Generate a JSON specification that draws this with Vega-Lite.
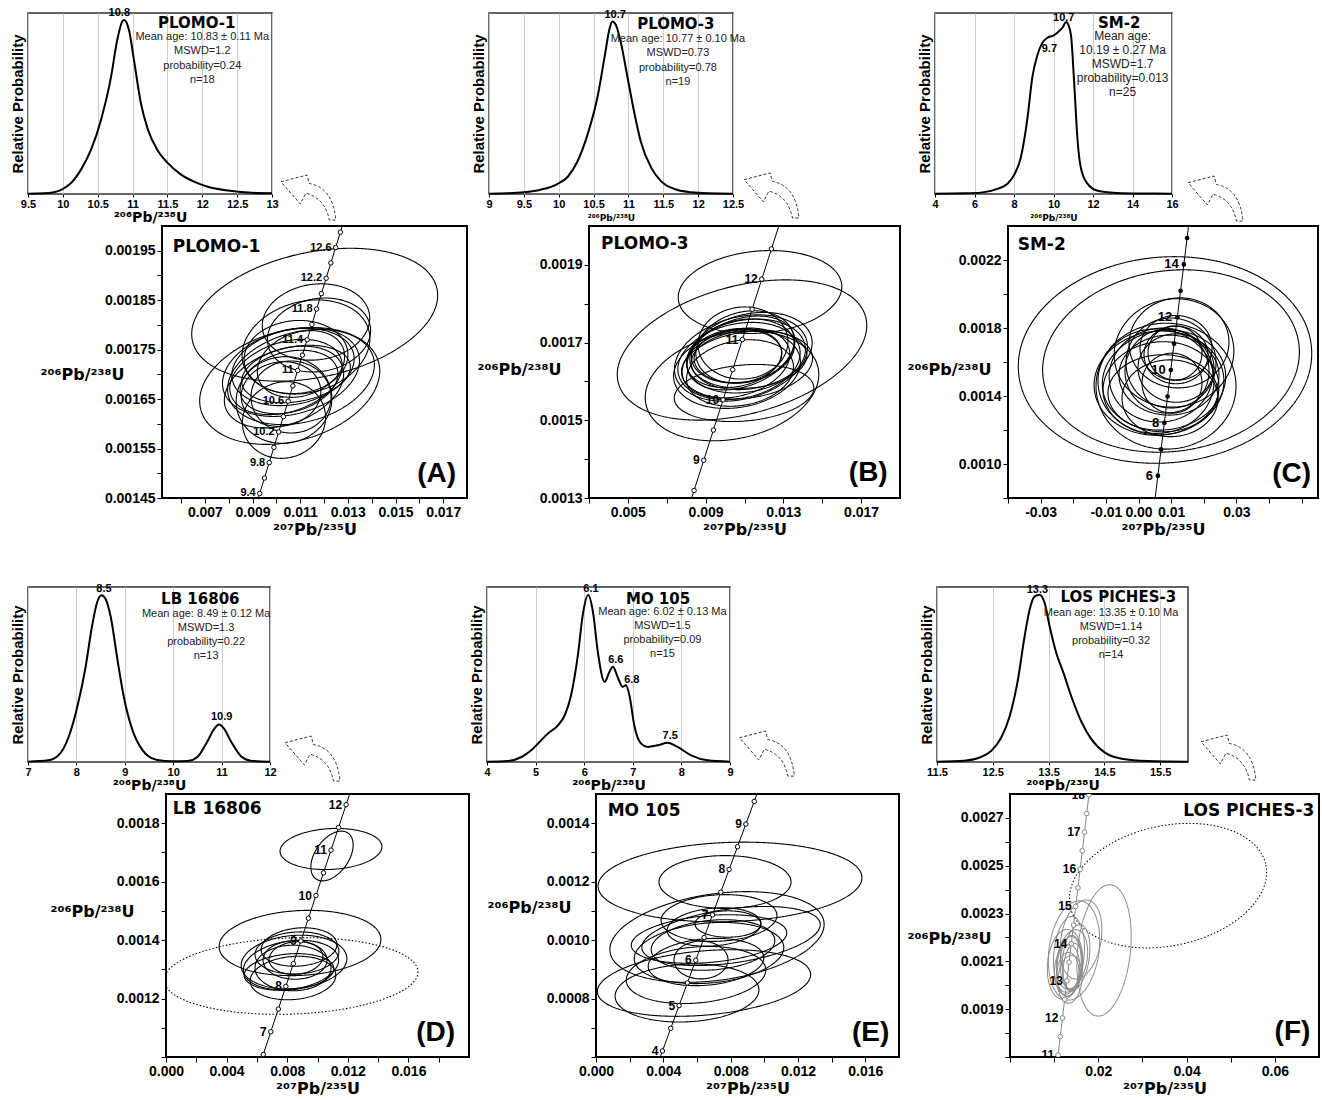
{
"$schema": "https://vega.github.io/schema/vega-lite/v6.json",
"padding": {"left": 9, "top": 6, "right": 2, "bottom": 2},
"background": "white",
"config": {
  "view": {"stroke": null},
  "font": "Liberation Sans",
  "axis": {"labelFont": "Liberation Sans", "labelFontWeight": "bold", "labelColor": "black", "titleFont": "DejaVu Sans", "titleFontWeight": "bold", "titleColor": "black", "tickColor": "black", "domain": false, "grid": false, "labelOverlap": false, "labelFlush": false, "labelBound": false}
},
"datasets": {
  "pdfA": [{"x":9.5,"p":0.002},{"x":9.73,"p":0.004},{"x":9.87,"p":0.01},{"x":9.99,"p":0.027},{"x":10.11,"p":0.06},{"x":10.26,"p":0.14},{"x":10.4,"p":0.25},{"x":10.55,"p":0.43},{"x":10.69,"p":0.67},{"x":10.78,"p":0.885},{"x":10.86,"p":0.996},{"x":10.88,"p":1.0},{"x":10.95,"p":0.94},{"x":11.02,"p":0.77},{"x":11.12,"p":0.52},{"x":11.22,"p":0.37},{"x":11.36,"p":0.25},{"x":11.5,"p":0.18},{"x":11.7,"p":0.11},{"x":11.89,"p":0.07},{"x":12.08,"p":0.042},{"x":12.37,"p":0.02},{"x":12.66,"p":0.008},{"x":13.0,"p":0.004}],
  "pdfB": [{"x":9.0,"p":0.002},{"x":9.26,"p":0.004},{"x":9.5,"p":0.01},{"x":9.74,"p":0.025},{"x":9.98,"p":0.058},{"x":10.13,"p":0.1},{"x":10.27,"p":0.19},{"x":10.41,"p":0.34},{"x":10.56,"p":0.57},{"x":10.66,"p":0.8},{"x":10.73,"p":0.96},{"x":10.77,"p":1.0},{"x":10.82,"p":0.98},{"x":10.89,"p":0.88},{"x":10.99,"p":0.67},{"x":11.09,"p":0.46},{"x":11.18,"p":0.3},{"x":11.33,"p":0.15},{"x":11.47,"p":0.073},{"x":11.66,"p":0.029},{"x":11.9,"p":0.01},{"x":12.14,"p":0.004},{"x":12.5,"p":0.002}],
  "pdfC": [{"x":4,"p":0.002},{"x":5.47,"p":0.004},{"x":6.32,"p":0.008},{"x":7.16,"p":0.03},{"x":7.67,"p":0.06},{"x":8.0,"p":0.11},{"x":8.34,"p":0.21},{"x":8.68,"p":0.44},{"x":8.93,"p":0.68},{"x":9.19,"p":0.81},{"x":9.44,"p":0.88},{"x":9.7,"p":0.91},{"x":9.96,"p":0.92},{"x":10.21,"p":0.94},{"x":10.47,"p":0.97},{"x":10.64,"p":1.0},{"x":10.75,"p":0.985},{"x":10.89,"p":0.92},{"x":11.05,"p":0.64},{"x":11.22,"p":0.31},{"x":11.39,"p":0.15},{"x":11.72,"p":0.06},{"x":12.2,"p":0.02},{"x":13.0,"p":0.007},{"x":14,"p":0.003},{"x":16,"p":0.002}],
  "pdfD": [{"x":7.0,"p":0.002},{"x":7.42,"p":0.01},{"x":7.63,"p":0.04},{"x":7.84,"p":0.15},{"x":8.05,"p":0.37},{"x":8.19,"p":0.57},{"x":8.32,"p":0.81},{"x":8.43,"p":0.96},{"x":8.52,"p":1.0},{"x":8.6,"p":0.98},{"x":8.71,"p":0.87},{"x":8.85,"p":0.61},{"x":8.98,"p":0.39},{"x":9.16,"p":0.19},{"x":9.37,"p":0.07},{"x":9.65,"p":0.014},{"x":9.99,"p":0.004},{"x":10.3,"p":0.006},{"x":10.5,"p":0.03},{"x":10.7,"p":0.12},{"x":10.85,"p":0.2},{"x":10.95,"p":0.225},{"x":11.05,"p":0.2},{"x":11.2,"p":0.12},{"x":11.4,"p":0.035},{"x":11.6,"p":0.008},{"x":12,"p":0.002}],
  "pdfE": [{"x":4.0,"p":0.002},{"x":4.43,"p":0.006},{"x":4.71,"p":0.03},{"x":4.91,"p":0.07},{"x":5.08,"p":0.12},{"x":5.25,"p":0.17},{"x":5.46,"p":0.22},{"x":5.6,"p":0.28},{"x":5.73,"p":0.4},{"x":5.87,"p":0.64},{"x":5.97,"p":0.88},{"x":6.08,"p":1.0},{"x":6.18,"p":0.9},{"x":6.28,"p":0.66},{"x":6.42,"p":0.48},{"x":6.52,"p":0.54},{"x":6.59,"p":0.57},{"x":6.7,"p":0.5},{"x":6.79,"p":0.45},{"x":6.86,"p":0.46},{"x":6.93,"p":0.4},{"x":7.03,"p":0.22},{"x":7.17,"p":0.11},{"x":7.31,"p":0.09},{"x":7.51,"p":0.1},{"x":7.72,"p":0.115},{"x":7.92,"p":0.09},{"x":8.2,"p":0.04},{"x":8.54,"p":0.01},{"x":9.0,"p":0.002}],
  "pdfF": [{"x":11.5,"p":0.002},{"x":11.99,"p":0.008},{"x":12.29,"p":0.03},{"x":12.47,"p":0.066},{"x":12.65,"p":0.145},{"x":12.8,"p":0.27},{"x":12.95,"p":0.49},{"x":13.07,"p":0.75},{"x":13.16,"p":0.91},{"x":13.25,"p":0.99},{"x":13.34,"p":1.0},{"x":13.43,"p":0.95},{"x":13.52,"p":0.81},{"x":13.64,"p":0.65},{"x":13.76,"p":0.54},{"x":13.91,"p":0.39},{"x":14.09,"p":0.24},{"x":14.27,"p":0.135},{"x":14.51,"p":0.056},{"x":14.81,"p":0.02},{"x":15.28,"p":0.006},{"x":16,"p":0.002}],
  "peaksA": [{"x":10.81,"p":1.01,"label":"10.8"}],
  "peaksB": [{"x":10.81,"p":1.01,"label":"10.7"}],
  "peaksC": [{"x":10.52,"p":0.996,"label":"10.7"},{"x":9.79,"p":0.816,"label":"9.7"}],
  "peaksD": [{"x":8.57,"p":1.006,"label":"8.5"},{"x":11.0,"p":0.238,"label":"10.9"}],
  "peaksE": [{"x":6.14,"p":1.006,"label":"6.1"},{"x":6.65,"p":0.581,"label":"6.6"},{"x":6.98,"p":0.46,"label":"6.8"},{"x":7.77,"p":0.128,"label":"7.5"}],
  "peaksF": [{"x":13.3,"p":0.999,"label":"13.3"}],
  "infoA": [{"name":"PLOMO-1","stats":"Mean age: 10.83 ± 0.11 Ma\nMSWD=1.2\nprobability=0.24\nn=18","panel":"(A)"}],
  "infoB": [{"name":"PLOMO-3","stats":"Mean age: 10.77 ± 0.10 Ma\nMSWD=0.73\nprobability=0.78\nn=19","panel":"(B)"}],
  "infoC": [{"name":"SM-2","stats":"Mean age:\n10.19 ± 0.27 Ma\nMSWD=1.7\nprobability=0.013\nn=25","panel":"(C)"}],
  "infoD": [{"name":"LB 16806","stats":"Mean age: 8.49 ± 0.12 Ma\nMSWD=1.3\nprobability=0.22\nn=13","panel":"(D)"}],
  "infoE": [{"name":"MO 105","stats":"Mean age: 6.02 ± 0.13 Ma\nMSWD=1.5\nprobability=0.09\nn=15","panel":"(E)"}],
  "infoF": [{"name":"LOS PICHES-3","stats":"Mean age: 13.35 ± 0.10 Ma\nMSWD=1.14\nprobability=0.32\nn=14","panel":"(F)"}],
  "concA": [{"t":9.2,"x":0.0091018,"y":0.00142817},{"t":9.4,"x":0.0093006,"y":0.00145924,"lab":"9.4"},{"t":9.6,"x":0.0094994,"y":0.00149031},{"t":9.8,"x":0.0096983,"y":0.00152138,"lab":"9.8"},{"t":10.0,"x":0.0098972,"y":0.00155245},{"t":10.2,"x":0.0100961,"y":0.00158353,"lab":"10.2"},{"t":10.4,"x":0.0102951,"y":0.0016146},{"t":10.6,"x":0.0104941,"y":0.00164568,"lab":"10.6"},{"t":10.8,"x":0.0106932,"y":0.00167675},{"t":11.0,"x":0.0108922,"y":0.00170783,"lab":"11"},{"t":11.2,"x":0.0110914,"y":0.00173891},{"t":11.4,"x":0.0112906,"y":0.00176999,"lab":"11.4"},{"t":11.6,"x":0.0114898,"y":0.00180107},{"t":11.8,"x":0.011689,"y":0.00183215,"lab":"11.8"},{"t":12.0,"x":0.0118883,"y":0.00186323},{"t":12.2,"x":0.0120876,"y":0.00189432,"lab":"12.2"},{"t":12.4,"x":0.012287,"y":0.0019254},{"t":12.6,"x":0.0124864,"y":0.00195649,"lab":"12.6"},{"t":12.8,"x":0.0126859,"y":0.00198757},{"t":13.0,"x":0.0128854,"y":0.00201866}],
  "concB": [{"t":8.0,"x":0.0079099,"y":0.00124177},{"t":8.5,"x":0.0084064,"y":0.00131943},{"t":9.0,"x":0.008903,"y":0.0013971,"lab":"9"},{"t":9.5,"x":0.0094,"y":0.00147477},{"t":10.0,"x":0.0098972,"y":0.00155245,"lab":"10"},{"t":10.5,"x":0.0103946,"y":0.00163014},{"t":11.0,"x":0.0108922,"y":0.00170783,"lab":"11"},{"t":11.5,"x":0.0113902,"y":0.00178553},{"t":12.0,"x":0.0118883,"y":0.00186323,"lab":"12"},{"t":12.5,"x":0.0123867,"y":0.00194094},{"t":13.0,"x":0.0128854,"y":0.00201866}],
  "concC": [{"t":5,"x":0.0049364,"y":0.00077593},{"t":6,"x":0.0059266,"y":0.00093118,"lab":"6"},{"t":7,"x":0.0069178,"y":0.00108646},{"t":8,"x":0.0079099,"y":0.00124177,"lab":"8"},{"t":9,"x":0.008903,"y":0.0013971},{"t":10,"x":0.0098972,"y":0.00155245,"lab":"10"},{"t":11,"x":0.0108922,"y":0.00170783},{"t":12,"x":0.0118883,"y":0.00186323,"lab":"12"},{"t":13,"x":0.0128854,"y":0.00201866},{"t":14,"x":0.0138834,"y":0.00217411,"lab":"14"},{"t":15,"x":0.0148824,"y":0.00232958},{"t":16,"x":0.0158826,"y":0.00248508}],
  "concD": [{"t":6.0,"x":0.0059266,"y":0.00093118},{"t":6.5,"x":0.0064221,"y":0.00100882},{"t":7.0,"x":0.0069178,"y":0.00108646,"lab":"7"},{"t":7.5,"x":0.0074137,"y":0.00116411},{"t":8.0,"x":0.0079099,"y":0.00124177,"lab":"8"},{"t":8.5,"x":0.0084064,"y":0.00131943},{"t":9.0,"x":0.008903,"y":0.0013971,"lab":"9"},{"t":9.5,"x":0.0094,"y":0.00147477},{"t":10.0,"x":0.0098972,"y":0.00155245,"lab":"10"},{"t":10.5,"x":0.0103946,"y":0.00163014},{"t":11.0,"x":0.0108922,"y":0.00170783,"lab":"11"},{"t":11.5,"x":0.0113902,"y":0.00178553},{"t":12.0,"x":0.0118883,"y":0.00186323,"lab":"12"},{"t":12.5,"x":0.0123867,"y":0.00194094}],
  "concE": [{"t":3.5,"x":0.0034529,"y":0.00054309},{"t":4.0,"x":0.0039472,"y":0.00062069,"lab":"4"},{"t":4.5,"x":0.0044417,"y":0.00069831},{"t":5.0,"x":0.0049364,"y":0.00077593,"lab":"5"},{"t":5.5,"x":0.0054314,"y":0.00085355},{"t":6.0,"x":0.0059266,"y":0.00093118,"lab":"6"},{"t":6.5,"x":0.0064221,"y":0.00100882},{"t":7.0,"x":0.0069178,"y":0.00108646,"lab":"7"},{"t":7.5,"x":0.0074137,"y":0.00116411},{"t":8.0,"x":0.0079099,"y":0.00124177,"lab":"8"},{"t":8.5,"x":0.0084064,"y":0.00131943},{"t":9.0,"x":0.008903,"y":0.0013971,"lab":"9"},{"t":9.5,"x":0.0094,"y":0.00147477},{"t":10.0,"x":0.0098972,"y":0.00155245}],
  "concF": [{"t":10.5,"x":0.0103946,"y":0.00163014},{"t":11,"x":0.0108922,"y":0.00170783,"lab":"11"},{"t":11.5,"x":0.0113902,"y":0.00178553},{"t":12,"x":0.0118883,"y":0.00186323,"lab":"12"},{"t":12.5,"x":0.0123867,"y":0.00194094},{"t":13,"x":0.0128854,"y":0.00201866,"lab":"13"},{"t":13.5,"x":0.0133843,"y":0.00209638},{"t":14,"x":0.0138834,"y":0.00217411,"lab":"14"},{"t":14.5,"x":0.0143828,"y":0.00225184},{"t":15,"x":0.0148824,"y":0.00232958,"lab":"15"},{"t":15.5,"x":0.0153823,"y":0.00240733},{"t":16,"x":0.0158826,"y":0.00248508,"lab":"16"},{"t":16.5,"x":0.0163828,"y":0.00256284},{"t":17,"x":0.0168834,"y":0.0026406,"lab":"17"},{"t":17.5,"x":0.0173842,"y":0.00271837},{"t":18,"x":0.0178854,"y":0.00279615,"lab":"18"},{"t":18.5,"x":0.0183867,"y":0.00287393}],
  "ellA": [{"x":0.011608,"y":0.0018206,"a":0.005246,"asp":0.5,"ang":-12},{"x":0.010559,"y":0.0016765,"a":0.003861,"asp":0.6,"ang":-15},{"x":0.011663,"y":0.0018059,"a":0.002266,"asp":0.7,"ang":-8},{"x":0.011789,"y":0.0017796,"a":0.002182,"asp":0.7,"ang":-10},{"x":0.01032,"y":0.0016077,"a":0.001763,"asp":0.9,"ang":-20},{"x":0.01032,"y":0.0016482,"a":0.002014,"asp":0.9,"ang":-10},{"x":0.010614,"y":0.0017048,"a":0.002938,"asp":0.6,"ang":-15},{"x":0.010698,"y":0.0017149,"a":0.002602,"asp":0.6,"ang":-12},{"x":0.010404,"y":0.0016947,"a":0.002434,"asp":0.6,"ang":-18},{"x":0.010824,"y":0.0017007,"a":0.002308,"asp":0.5,"ang":-10},{"x":0.01053,"y":0.0016846,"a":0.002098,"asp":0.6,"ang":-15},{"x":0.011033,"y":0.001721,"a":0.001889,"asp":0.7,"ang":-20},{"x":0.01032,"y":0.0016744,"a":0.002602,"asp":0.6,"ang":-20},{"x":0.010824,"y":0.0017351,"a":0.002182,"asp":0.7,"ang":-5},{"x":0.010194,"y":0.0016603,"a":0.001679,"asp":0.8,"ang":-10},{"x":0.011243,"y":0.0017553,"a":0.002728,"asp":0.7,"ang":-15},{"x":0.010614,"y":0.0016542,"a":0.001679,"asp":0.9,"ang":0},{"x":0.011033,"y":0.0016947,"a":0.003148,"asp":0.6,"ang":-15}],
  "ellB": [{"x":0.010872,"y":0.0016809,"a":0.006585,"asp":0.5,"ang":-15},{"x":0.010357,"y":0.0015882,"a":0.004527,"asp":0.6,"ang":-12},{"x":0.011798,"y":0.0018301,"a":0.004219,"asp":0.5,"ang":-5},{"x":0.010975,"y":0.0015702,"a":0.003601,"asp":0.4,"ang":-5},{"x":0.010923,"y":0.0016989,"a":0.002315,"asp":0.8,"ang":-5},{"x":0.01082,"y":0.0016603,"a":0.003498,"asp":0.6,"ang":-15},{"x":0.010717,"y":0.0016526,"a":0.00319,"asp":0.6,"ang":-12},{"x":0.011077,"y":0.0016654,"a":0.003087,"asp":0.6,"ang":-10},{"x":0.010563,"y":0.0016474,"a":0.00283,"asp":0.6,"ang":-15},{"x":0.010923,"y":0.0016783,"a":0.002675,"asp":0.6,"ang":-10},{"x":0.011232,"y":0.0016577,"a":0.002984,"asp":0.5,"ang":-5},{"x":0.010614,"y":0.001632,"a":0.003293,"asp":0.6,"ang":-10},{"x":0.011026,"y":0.0016886,"a":0.002572,"asp":0.7,"ang":-15},{"x":0.010666,"y":0.0016654,"a":0.002264,"asp":0.6,"ang":-5},{"x":0.011129,"y":0.0016423,"a":0.003396,"asp":0.5,"ang":-8},{"x":0.01082,"y":0.0016732,"a":0.002881,"asp":0.6,"ang":-20},{"x":0.01046,"y":0.0016603,"a":0.00247,"asp":0.6,"ang":-10},{"x":0.011335,"y":0.0016783,"a":0.00319,"asp":0.6,"ang":-12},{"x":0.010769,"y":0.0016217,"a":0.002778,"asp":0.6,"ang":-10}],
  "ellC": [{"x":0.008115,"y":0.0016119,"a":0.04505,"asp":0.7,"ang":-5},{"x":0.009954,"y":0.0016059,"a":0.03953,"asp":0.7,"ang":-8},{"x":0.008421,"y":0.0014578,"a":0.02145,"asp":0.9,"ang":0},{"x":0.010873,"y":0.0016533,"a":0.01839,"asp":0.9,"ang":-10},{"x":0.01118,"y":0.0016533,"a":0.008275,"asp":1,"ang":0},{"x":0.011486,"y":0.0016415,"a":0.009807,"asp":0.9,"ang":0},{"x":0.011486,"y":0.0015644,"a":0.01165,"asp":0.9,"ang":0},{"x":0.007809,"y":0.0014933,"a":0.019,"asp":0.8,"ang":-10},{"x":0.00689,"y":0.0014459,"a":0.01778,"asp":0.8,"ang":-5},{"x":0.009341,"y":0.001523,"a":0.01532,"asp":0.8,"ang":0},{"x":0.0075,"y":0.0014163,"a":0.01686,"asp":0.7,"ang":0},{"x":0.009954,"y":0.0015941,"a":0.01379,"asp":1,"ang":0},{"x":0.006277,"y":0.0014756,"a":0.01992,"asp":0.8,"ang":-5},{"x":0.008728,"y":0.0015467,"a":0.01287,"asp":1,"ang":0},{"x":0.011486,"y":0.001683,"a":0.01103,"asp":0.9,"ang":0},{"x":0.00689,"y":0.001523,"a":0.01594,"asp":0.9,"ang":-10},{"x":0.009647,"y":0.0013867,"a":0.01471,"asp":0.8,"ang":0},{"x":0.01026,"y":0.0014756,"a":0.00919,"asp":1,"ang":0},{"x":0.012406,"y":0.0017126,"a":0.01532,"asp":0.9,"ang":-5},{"x":0.005357,"y":0.0014874,"a":0.01778,"asp":0.9,"ang":0}],
  "ellD": [{"x":0.010891,"y":0.0017118,"a":0.003366,"asp":0.4,"ang":-3},{"x":0.010957,"y":0.0016878,"a":0.001848,"asp":0.6,"ang":-55},{"x":0.008845,"y":0.0013901,"a":0.005347,"asp":0.4,"ang":-3},{"x":0.008251,"y":0.0012772,"a":0.008383,"asp":0.3,"ang":-2,"line":"dotted"},{"x":0.008449,"y":0.0013251,"a":0.003498,"asp":0.5,"ang":-5},{"x":0.008383,"y":0.0012703,"a":0.002838,"asp":0.5,"ang":-5},{"x":0.008581,"y":0.0013388,"a":0.001782,"asp":0.6,"ang":-5},{"x":0.008779,"y":0.0013764,"a":0.002508,"asp":0.5,"ang":-5},{"x":0.008383,"y":0.0013046,"a":0.002508,"asp":0.6,"ang":0},{"x":0.008251,"y":0.0013148,"a":0.003168,"asp":0.5,"ang":-8},{"x":0.008515,"y":0.0013319,"a":0.002112,"asp":0.6,"ang":0},{"x":0.008119,"y":0.0012909,"a":0.00297,"asp":0.4,"ang":-5},{"x":0.008647,"y":0.0013559,"a":0.002772,"asp":0.5,"ang":-3}],
  "ellE": [{"x":0.007961,"y":0.0011989,"a":0.007842,"asp":0.3,"ang":-2},{"x":0.007664,"y":0.0011989,"a":0.003921,"asp":0.4,"ang":0},{"x":0.007188,"y":0.0010107,"a":0.006416,"asp":0.4,"ang":-8},{"x":0.006416,"y":0.0008532,"a":0.006357,"asp":0.3,"ang":-5},{"x":0.005406,"y":0.000819,"a":0.004277,"asp":0.4,"ang":-3},{"x":0.006713,"y":0.0010038,"a":0.004634,"asp":0.3,"ang":-5},{"x":0.00701,"y":0.0010449,"a":0.002792,"asp":0.4,"ang":-5},{"x":0.007842,"y":0.0010551,"a":0.00196,"asp":0.4,"ang":0},{"x":0.006238,"y":0.0009319,"a":0.001604,"asp":0.7,"ang":0},{"x":0.006713,"y":0.0009559,"a":0.004456,"asp":0.4,"ang":-5},{"x":0.00802,"y":0.0010141,"a":0.005347,"asp":0.3,"ang":-8},{"x":0.006535,"y":0.0009251,"a":0.003446,"asp":0.4,"ang":-5},{"x":0.006951,"y":0.0009833,"a":0.003683,"asp":0.4,"ang":-5},{"x":0.005941,"y":0.0008806,"a":0.004159,"asp":0.4,"ang":-5},{"x":0.007307,"y":0.0010757,"a":0.003446,"asp":0.4,"ang":-3}],
  "ellF": [{"x":0.035795,"y":0.0024167,"a":0.022655,"asp":0.6,"ang":-12,"line":"dotted"},{"x":0.021296,"y":0.0021458,"a":0.014952,"asp":0.4,"ang":-84},{"x":0.014499,"y":0.0021458,"a":0.011328,"asp":0.5,"ang":-82},{"x":0.013367,"y":0.0021292,"a":0.008609,"asp":0.4,"ang":-85},{"x":0.013367,"y":0.0020792,"a":0.006797,"asp":0.4,"ang":-85},{"x":0.01382,"y":0.0020958,"a":0.006117,"asp":0.4,"ang":-88},{"x":0.012913,"y":0.0020667,"a":0.005664,"asp":0.5,"ang":-85},{"x":0.014046,"y":0.0021083,"a":0.006797,"asp":0.5,"ang":-80},{"x":0.01314,"y":0.0020458,"a":0.004984,"asp":0.5,"ang":-88},{"x":0.014273,"y":0.002075,"a":0.005437,"asp":0.4,"ang":-85},{"x":0.013593,"y":0.002025,"a":0.005437,"asp":0.5,"ang":-85},{"x":0.014952,"y":0.0021167,"a":0.007476,"asp":0.4,"ang":-82},{"x":0.01246,"y":0.0020875,"a":0.007929,"asp":0.5,"ang":-85},{"x":0.016085,"y":0.0021917,"a":0.009062,"asp":0.5,"ang":-80}]
},
"vconcat": [
 {"vconcat": [
  {"hconcat": [
   {"width": 244, "height": 181, "view": {"stroke": "#333", "strokeWidth": 1.5},
    "layer": [
     {"data": {"name": "pdfA"}, "mark": {"type": "line", "color": "black", "strokeWidth": 2, "interpolate": "monotone"},
      "encoding": {"x": {"field": "x", "type": "quantitative", "scale": {"domain": [9.5, 13], "nice": false, "zero": false}, "axis": {"title": "²⁰⁶Pb/²³⁸U", "values": [9.5,10,10.5,11,11.5,12,12.5,13], "tickCount": 50, "format": "~g", "labelOverlap": false, "labelFlush": false, "grid": true, "gridColor": "#cccccc", "labelFontSize": 11, "titleFontSize": 14, "tickSize": 3, "labelPadding": 1, "titlePadding": 1}},
                   "y": {"field": "p", "type": "quantitative", "scale": {"domain": [0, 1.04], "nice": false}, "axis": {"title": "Relative Probability", "titleFont": "Liberation Sans", "labels": false, "ticks": false, "titleFontSize": 15, "titlePadding": 3}}}},
     {"data": {"name": "peaksA"}, "mark": {"type": "text", "fontWeight": "bold", "fontSize": 11, "baseline": "bottom"},
      "encoding": {"x": {"field": "x", "type": "quantitative"}, "y": {"field": "p", "type": "quantitative"}, "text": {"field": "label"}}},
     {"data": {"name": "infoA"}, "mark": {"type": "text", "font": "DejaVu Sans", "fontWeight": "bold", "fontSize": 15, "baseline": "middle"},
      "encoding": {"x": {"datum": 11.92}, "y": {"datum": 0.983}, "text": {"field": "name"}}},
     {"data": {"name": "infoA"}, "mark": {"type": "text", "fontSize": 11, "color": "#222", "baseline": "top", "lineBreak": "\n", "lineHeight": 14.3},
      "encoding": {"x": {"datum": 12.0}, "y": {"datum": 0.937}, "text": {"field": "stats"}}},
     {"data": {"name": "infoA"}, "mark": {"type": "point", "shape": "M-1,-0.58L-0.07,-0.82L0.01,-0.52Q0.86,-0.36,0.96,0.79L0.73,0.79Q0.57,0,-0.11,-0.17L-0.31,0.21Z", "size": 3136, "filled": false, "color": "#333", "strokeWidth": 1, "strokeDash": [3, 2], "opacity": 1},
      "encoding": {"x": {"datum": 13.53}, "y": {"datum": -0.023}}}
    ]},
   {"width": 217, "height": 1, "data": {"values": []}, "mark": "point"},
   {"width": 244, "height": 181, "view": {"stroke": "#333", "strokeWidth": 1.5},
    "layer": [
     {"data": {"name": "pdfB"}, "mark": {"type": "line", "color": "black", "strokeWidth": 2, "interpolate": "monotone"},
      "encoding": {"x": {"field": "x", "type": "quantitative", "scale": {"domain": [9, 12.5], "nice": false, "zero": false}, "axis": {"title": "²⁰⁶Pb/²³⁸U", "values": [9,9.5,10,10.5,11,11.5,12,12.5], "tickCount": 50, "format": "~g", "labelOverlap": false, "labelFlush": false, "grid": true, "gridColor": "#cccccc", "labelFontSize": 11, "titleFontSize": 9, "tickSize": 3, "labelPadding": 1, "titlePadding": 4}},
                   "y": {"field": "p", "type": "quantitative", "scale": {"domain": [0, 1.05], "nice": false}, "axis": {"title": "Relative Probability", "titleFont": "Liberation Sans", "labels": false, "ticks": false, "titleFontSize": 15, "titlePadding": 3}}}},
     {"data": {"name": "peaksB"}, "mark": {"type": "text", "fontWeight": "bold", "fontSize": 11, "baseline": "bottom"},
      "encoding": {"x": {"field": "x", "type": "quantitative"}, "y": {"field": "p", "type": "quantitative"}, "text": {"field": "label"}}},
     {"data": {"name": "infoB"}, "mark": {"type": "text", "font": "DejaVu Sans", "fontWeight": "bold", "fontSize": 15, "baseline": "middle"},
      "encoding": {"x": {"datum": 11.68}, "y": {"datum": 0.989}, "text": {"field": "name"}}},
     {"data": {"name": "infoB"}, "mark": {"type": "text", "fontSize": 11, "color": "#222", "baseline": "top", "lineBreak": "\n", "lineHeight": 14.3},
      "encoding": {"x": {"datum": 11.71}, "y": {"datum": 0.934}, "text": {"field": "stats"}}},
     {"data": {"name": "infoB"}, "mark": {"type": "point", "shape": "M-1,-0.58L-0.07,-0.82L0.01,-0.52Q0.86,-0.36,0.96,0.79L0.73,0.79Q0.57,0,-0.11,-0.17L-0.31,0.21Z", "size": 3136, "filled": false, "color": "#333", "strokeWidth": 1, "strokeDash": [3, 2], "opacity": 1},
      "encoding": {"x": {"datum": 13.06}, "y": {"datum": -0.011}}}
    ]},
   {"width": 202, "height": 1, "data": {"values": []}, "mark": "point"},
   {"width": 237, "height": 181, "view": {"stroke": "#333", "strokeWidth": 1.5},
    "layer": [
     {"data": {"name": "pdfC"}, "mark": {"type": "line", "color": "black", "strokeWidth": 2, "interpolate": "monotone"},
      "encoding": {"x": {"field": "x", "type": "quantitative", "scale": {"domain": [4, 16], "nice": false, "zero": false}, "axis": {"title": "²⁰⁶Pb/²³⁸U", "values": [4,6,8,10,12,14,16], "tickCount": 50, "format": "~g", "labelOverlap": false, "labelFlush": false, "grid": true, "gridColor": "#cccccc", "labelFontSize": 11, "titleFontSize": 9, "tickSize": 3, "labelPadding": 1, "titlePadding": 4}},
                   "y": {"field": "p", "type": "quantitative", "scale": {"domain": [0, 1.053], "nice": false}, "axis": {"title": "Relative Probability", "titleFont": "Liberation Sans", "labels": false, "ticks": false, "titleFontSize": 15, "titlePadding": 3}}}},
     {"data": {"name": "peaksC"}, "mark": {"type": "text", "fontWeight": "bold", "fontSize": 11, "baseline": "bottom"},
      "encoding": {"x": {"field": "x", "type": "quantitative"}, "y": {"field": "p", "type": "quantitative"}, "text": {"field": "label"}}},
     {"data": {"name": "infoC"}, "mark": {"type": "text", "font": "DejaVu Sans", "fontWeight": "bold", "fontSize": 15, "baseline": "middle"},
      "encoding": {"x": {"datum": 13.33}, "y": {"datum": 0.992}, "text": {"field": "name"}}},
     {"data": {"name": "infoC"}, "mark": {"type": "text", "fontSize": 12, "color": "#222", "baseline": "top", "lineBreak": "\n", "lineHeight": 14},
      "encoding": {"x": {"datum": 13.5}, "y": {"datum": 0.946}, "text": {"field": "stats"}}},
     {"data": {"name": "infoC"}, "mark": {"type": "point", "shape": "M-1,-0.58L-0.07,-0.82L0.01,-0.52Q0.86,-0.36,0.96,0.79L0.73,0.79Q0.57,0,-0.11,-0.17L-0.31,0.21Z", "size": 3136, "filled": false, "color": "#333", "strokeWidth": 1, "strokeDash": [3, 2], "opacity": 1},
      "encoding": {"x": {"datum": 18.23}, "y": {"datum": -0.029}}}
    ]}
  ], "spacing": 0, "bounds": "flush"},
  {"hconcat": [
   {"width": 134, "height": 1, "data": {"values": []}, "mark": "point"},
   {"width": 305, "height": 272, "view": {"stroke": "black", "strokeWidth": 2},
    "layer": [
     {"data": {"name": "ellA"}, "mark": {"type": "point", "filled": false, "color": "black", "strokeWidth": 1.1, "opacity": 1, "clip": true},
      "encoding": {
       "x": {"field": "x", "type": "quantitative", "scale": {"domain": [0.0052, 0.018], "nice": false, "zero": false}, "axis": {"title": "²⁰⁷Pb/²³⁵U", "values": [0.006,0.007,0.008,0.009,0.01,0.011,0.012,0.013,0.014,0.015,0.016,0.017], "tickCount": 50, "labelExpr": "round(datum.value*1000) % 2 == 1 ? format(datum.value, '.3f') : ''", "labelOverlap": false, "labelFlush": false, "labelFontSize": 14, "titleFontSize": 16, "tickSize": 5, "labelPadding": 2, "titlePadding": 2}},
       "y": {"field": "y", "type": "quantitative", "scale": {"domain": [0.00145, 0.002], "nice": false, "zero": false}, "axis": {"title": "²⁰⁶Pb/²³⁸U", "values": [0.00145,0.0015,0.00155,0.0016,0.00165,0.0017,0.00175,0.0018,0.00185,0.0019,0.00195], "tickCount": 50, "labelExpr": "round(datum.value*100000) % 10 == 5 ? format(datum.value, '.5f') : ''", "labelOverlap": false, "labelFlush": false, "labelFontSize": 14, "titleFontSize": 16, "tickSize": 5, "titleAngle": 0, "titleAlign": "right", "titleBaseline": "middle", "titleX": -38, "titleY": 148}},
       "size": {"field": "a", "type": "quantitative", "scale": {"type": "pow", "exponent": 2, "domain": [0, 0.01], "range": [0, 227110], "nice": false}, "legend": null},
       "shape": {"field": "asp", "type": "nominal", "scale": {"domain": [0.3,0.4,0.5,0.6,0.7,0.8,0.9,1], "range": ["M1,0C1,0.1656,0.552,0.3,0,0.3C-0.552,0.3,-1,0.1656,-1,0C-1,-0.1656,-0.552,-0.3,0,-0.3C0.552,-0.3,1,-0.1656,1,0Z","M1,0C1,0.2208,0.552,0.4,0,0.4C-0.552,0.4,-1,0.2208,-1,0C-1,-0.2208,-0.552,-0.4,0,-0.4C0.552,-0.4,1,-0.2208,1,0Z","M1,0C1,0.276,0.552,0.5,0,0.5C-0.552,0.5,-1,0.276,-1,0C-1,-0.276,-0.552,-0.5,0,-0.5C0.552,-0.5,1,-0.276,1,0Z","M1,0C1,0.3312,0.552,0.6,0,0.6C-0.552,0.6,-1,0.3312,-1,0C-1,-0.3312,-0.552,-0.6,0,-0.6C0.552,-0.6,1,-0.3312,1,0Z","M1,0C1,0.3864,0.552,0.7,0,0.7C-0.552,0.7,-1,0.3864,-1,0C-1,-0.3864,-0.552,-0.7,0,-0.7C0.552,-0.7,1,-0.3864,1,0Z","M1,0C1,0.4416,0.552,0.8,0,0.8C-0.552,0.8,-1,0.4416,-1,0C-1,-0.4416,-0.552,-0.8,0,-0.8C0.552,-0.8,1,-0.4416,1,0Z","M1,0C1,0.4968,0.552,0.9,0,0.9C-0.552,0.9,-1,0.4968,-1,0C-1,-0.4968,-0.552,-0.9,0,-0.9C0.552,-0.9,1,-0.4968,1,0Z","M1,0C1,0.552,0.552,1,0,1C-0.552,1,-1,0.552,-1,0C-1,-0.552,-0.552,-1,0,-1C0.552,-1,1,-0.552,1,0Z"]}, "legend": null},
       "angle": {"field": "ang", "type": "quantitative", "scale": {"domain": [-180, 180], "range": [-180, 180]}},
       "strokeDash": {"condition": {"test": "datum.line == 'dotted'", "value": [2, 2]}, "value": [1, 0]}
      }},
     {"data": {"name": "concA"}, "mark": {"type": "line", "color": "black", "strokeWidth": 1, "clip": true},
      "encoding": {"x": {"field": "x", "type": "quantitative"}, "y": {"field": "y", "type": "quantitative"}, "order": {"field": "t", "type": "quantitative"}}},
     {"data": {"name": "concA"}, "mark": {"type": "point", "filled": true, "fill": "white", "stroke": "black", "strokeWidth": 1, "size": 20, "opacity": 1, "clip": true},
      "encoding": {"x": {"field": "x", "type": "quantitative"}, "y": {"field": "y", "type": "quantitative"}}},
     {"data": {"name": "concA"}, "transform": [{"filter": "isValid(datum.lab)"}], "mark": {"type": "text", "fontWeight": "bold", "fontSize": 11, "align": "right", "baseline": "middle", "dx": -4, "clip": true},
      "encoding": {"x": {"field": "x", "type": "quantitative"}, "y": {"field": "y", "type": "quantitative"}, "text": {"field": "lab"}}},
     {"data": {"name": "infoA"}, "mark": {"type": "text", "font": "DejaVu Sans", "fontWeight": "bold", "fontSize": 17, "align": "left", "baseline": "middle"},
      "encoding": {"x": {"datum": 0.00565}, "y": {"datum": 0.0019575}, "text": {"field": "name"}}},
     {"data": {"name": "infoA"}, "mark": {"type": "text", "fontWeight": "bold", "fontSize": 28, "align": "right", "baseline": "middle"},
      "encoding": {"x": {"datum": 0.01754}, "y": {"datum": 0.001499}, "text": {"field": "panel"}}}
    ]},
   {"width": 122, "height": 1, "data": {"values": []}, "mark": "point"},
   {"width": 311, "height": 272, "view": {"stroke": "black", "strokeWidth": 2},
    "layer": [
     {"data": {"name": "ellB"}, "mark": {"type": "point", "filled": false, "color": "black", "strokeWidth": 1.1, "opacity": 1, "clip": true},
      "encoding": {
       "x": {"field": "x", "type": "quantitative", "scale": {"domain": [0.003, 0.019], "nice": false, "zero": false}, "axis": {"title": "²⁰⁷Pb/²³⁵U", "values": [0.003,0.005,0.007,0.009,0.011,0.013,0.015,0.017], "tickCount": 50, "labelExpr": "round(datum.value*1000) % 4 == 1 ? format(datum.value, '.3f') : ''", "labelOverlap": false, "labelFlush": false, "labelFontSize": 14, "titleFontSize": 16, "tickSize": 5, "labelPadding": 2, "titlePadding": 2}},
       "y": {"field": "y", "type": "quantitative", "scale": {"domain": [0.0013, 0.002], "nice": false, "zero": false}, "axis": {"title": "²⁰⁶Pb/²³⁸U", "values": [0.0013,0.0014,0.0015,0.0016,0.0017,0.0018,0.0019], "tickCount": 50, "labelExpr": "round(datum.value*10000) % 2 == 1 ? format(datum.value, '.4f') : ''", "labelOverlap": false, "labelFlush": false, "labelFontSize": 14, "titleFontSize": 16, "tickSize": 5, "titleAngle": 0, "titleAlign": "right", "titleBaseline": "middle", "titleX": -28, "titleY": 143}},
       "size": {"field": "a", "type": "quantitative", "scale": {"type": "pow", "exponent": 2, "domain": [0, 0.01], "range": [0, 151119], "nice": false}, "legend": null},
       "shape": {"field": "asp", "type": "nominal", "scale": {"domain": [0.3,0.4,0.5,0.6,0.7,0.8,0.9,1], "range": ["M1,0C1,0.1656,0.552,0.3,0,0.3C-0.552,0.3,-1,0.1656,-1,0C-1,-0.1656,-0.552,-0.3,0,-0.3C0.552,-0.3,1,-0.1656,1,0Z","M1,0C1,0.2208,0.552,0.4,0,0.4C-0.552,0.4,-1,0.2208,-1,0C-1,-0.2208,-0.552,-0.4,0,-0.4C0.552,-0.4,1,-0.2208,1,0Z","M1,0C1,0.276,0.552,0.5,0,0.5C-0.552,0.5,-1,0.276,-1,0C-1,-0.276,-0.552,-0.5,0,-0.5C0.552,-0.5,1,-0.276,1,0Z","M1,0C1,0.3312,0.552,0.6,0,0.6C-0.552,0.6,-1,0.3312,-1,0C-1,-0.3312,-0.552,-0.6,0,-0.6C0.552,-0.6,1,-0.3312,1,0Z","M1,0C1,0.3864,0.552,0.7,0,0.7C-0.552,0.7,-1,0.3864,-1,0C-1,-0.3864,-0.552,-0.7,0,-0.7C0.552,-0.7,1,-0.3864,1,0Z","M1,0C1,0.4416,0.552,0.8,0,0.8C-0.552,0.8,-1,0.4416,-1,0C-1,-0.4416,-0.552,-0.8,0,-0.8C0.552,-0.8,1,-0.4416,1,0Z","M1,0C1,0.4968,0.552,0.9,0,0.9C-0.552,0.9,-1,0.4968,-1,0C-1,-0.4968,-0.552,-0.9,0,-0.9C0.552,-0.9,1,-0.4968,1,0Z","M1,0C1,0.552,0.552,1,0,1C-0.552,1,-1,0.552,-1,0C-1,-0.552,-0.552,-1,0,-1C0.552,-1,1,-0.552,1,0Z"]}, "legend": null},
       "angle": {"field": "ang", "type": "quantitative", "scale": {"domain": [-180, 180], "range": [-180, 180]}},
       "strokeDash": {"condition": {"test": "datum.line == 'dotted'", "value": [2, 2]}, "value": [1, 0]}
      }},
     {"data": {"name": "concB"}, "mark": {"type": "line", "color": "black", "strokeWidth": 1, "clip": true},
      "encoding": {"x": {"field": "x", "type": "quantitative"}, "y": {"field": "y", "type": "quantitative"}, "order": {"field": "t", "type": "quantitative"}}},
     {"data": {"name": "concB"}, "mark": {"type": "point", "filled": true, "fill": "white", "stroke": "black", "strokeWidth": 1, "size": 20, "opacity": 1, "clip": true},
      "encoding": {"x": {"field": "x", "type": "quantitative"}, "y": {"field": "y", "type": "quantitative"}}},
     {"data": {"name": "concB"}, "transform": [{"filter": "isValid(datum.lab)"}], "mark": {"type": "text", "fontWeight": "bold", "fontSize": 12, "align": "right", "baseline": "middle", "dx": -4, "clip": true},
      "encoding": {"x": {"field": "x", "type": "quantitative"}, "y": {"field": "y", "type": "quantitative"}, "text": {"field": "lab"}}},
     {"data": {"name": "infoB"}, "mark": {"type": "text", "font": "DejaVu Sans", "fontWeight": "bold", "fontSize": 17, "align": "left", "baseline": "middle"},
      "encoding": {"x": {"datum": 0.003617}, "y": {"datum": 0.0019529}, "text": {"field": "name"}}},
     {"data": {"name": "infoB"}, "mark": {"type": "text", "fontWeight": "bold", "fontSize": 28, "align": "right", "baseline": "middle"},
      "encoding": {"x": {"datum": 0.018367}, "y": {"datum": 0.0013651}, "text": {"field": "panel"}}}
    ]},
   {"width": 108, "height": 1, "data": {"values": []}, "mark": "point"},
   {"width": 310, "height": 272, "view": {"stroke": "black", "strokeWidth": 2},
    "layer": [
     {"data": {"name": "ellC"}, "mark": {"type": "point", "filled": false, "color": "black", "strokeWidth": 1.1, "opacity": 1, "clip": true},
      "encoding": {
       "x": {"field": "x", "type": "quantitative", "scale": {"domain": [-0.04, 0.055], "nice": false, "zero": false}, "axis": {"title": "²⁰⁷Pb/²³⁵U", "values": [-0.04,-0.03,-0.02,-0.01,0,0.01,0.02,0.03,0.04,0.05], "tickCount": 50, "labelExpr": "(abs(round(datum.value*100)) <= 1 || abs(round(datum.value*100)) == 3) ? replace(format(datum.value, '.2f'), '−', '-') : ''", "labelOverlap": false, "labelFlush": false, "labelFontSize": 14, "titleFontSize": 16, "tickSize": 5, "labelPadding": 2, "titlePadding": 2}},
       "y": {"field": "y", "type": "quantitative", "scale": {"domain": [0.0008, 0.0024], "nice": false, "zero": false}, "axis": {"title": "²⁰⁶Pb/²³⁸U", "values": [0.0008,0.001,0.0012,0.0014,0.0016,0.0018,0.002,0.0022], "tickCount": 50, "labelExpr": "round(datum.value*10000) % 4 == 2 ? format(datum.value, '.4f') : ''", "labelOverlap": false, "labelFlush": false, "labelFontSize": 14, "titleFontSize": 16, "tickSize": 5, "titleAngle": 0, "titleAlign": "right", "titleBaseline": "middle", "titleX": -17, "titleY": 143}},
       "size": {"field": "a", "type": "quantitative", "scale": {"type": "pow", "exponent": 2, "domain": [0, 0.05], "range": [0, 106472], "nice": false}, "legend": null},
       "shape": {"field": "asp", "type": "nominal", "scale": {"domain": [0.3,0.4,0.5,0.6,0.7,0.8,0.9,1], "range": ["M1,0C1,0.1656,0.552,0.3,0,0.3C-0.552,0.3,-1,0.1656,-1,0C-1,-0.1656,-0.552,-0.3,0,-0.3C0.552,-0.3,1,-0.1656,1,0Z","M1,0C1,0.2208,0.552,0.4,0,0.4C-0.552,0.4,-1,0.2208,-1,0C-1,-0.2208,-0.552,-0.4,0,-0.4C0.552,-0.4,1,-0.2208,1,0Z","M1,0C1,0.276,0.552,0.5,0,0.5C-0.552,0.5,-1,0.276,-1,0C-1,-0.276,-0.552,-0.5,0,-0.5C0.552,-0.5,1,-0.276,1,0Z","M1,0C1,0.3312,0.552,0.6,0,0.6C-0.552,0.6,-1,0.3312,-1,0C-1,-0.3312,-0.552,-0.6,0,-0.6C0.552,-0.6,1,-0.3312,1,0Z","M1,0C1,0.3864,0.552,0.7,0,0.7C-0.552,0.7,-1,0.3864,-1,0C-1,-0.3864,-0.552,-0.7,0,-0.7C0.552,-0.7,1,-0.3864,1,0Z","M1,0C1,0.4416,0.552,0.8,0,0.8C-0.552,0.8,-1,0.4416,-1,0C-1,-0.4416,-0.552,-0.8,0,-0.8C0.552,-0.8,1,-0.4416,1,0Z","M1,0C1,0.4968,0.552,0.9,0,0.9C-0.552,0.9,-1,0.4968,-1,0C-1,-0.4968,-0.552,-0.9,0,-0.9C0.552,-0.9,1,-0.4968,1,0Z","M1,0C1,0.552,0.552,1,0,1C-0.552,1,-1,0.552,-1,0C-1,-0.552,-0.552,-1,0,-1C0.552,-1,1,-0.552,1,0Z"]}, "legend": null},
       "angle": {"field": "ang", "type": "quantitative", "scale": {"domain": [-180, 180], "range": [-180, 180]}},
       "strokeDash": {"condition": {"test": "datum.line == 'dotted'", "value": [2, 2]}, "value": [1, 0]}
      }},
     {"data": {"name": "concC"}, "mark": {"type": "line", "color": "black", "strokeWidth": 1, "clip": true},
      "encoding": {"x": {"field": "x", "type": "quantitative"}, "y": {"field": "y", "type": "quantitative"}, "order": {"field": "t", "type": "quantitative"}}},
     {"data": {"name": "concC"}, "mark": {"type": "point", "filled": true, "color": "black", "size": 22, "opacity": 1, "clip": true},
      "encoding": {"x": {"field": "x", "type": "quantitative"}, "y": {"field": "y", "type": "quantitative"}}},
     {"data": {"name": "concC"}, "transform": [{"filter": "isValid(datum.lab)"}], "mark": {"type": "text", "fontWeight": "bold", "fontSize": 13, "align": "right", "baseline": "middle", "dx": -5, "clip": true},
      "encoding": {"x": {"field": "x", "type": "quantitative"}, "y": {"field": "y", "type": "quantitative"}, "text": {"field": "lab"}}},
     {"data": {"name": "infoC"}, "mark": {"type": "text", "font": "DejaVu Sans", "fontWeight": "bold", "fontSize": 17, "align": "left", "baseline": "middle"},
      "encoding": {"x": {"datum": -0.037027}, "y": {"datum": 0.0022856}, "text": {"field": "name"}}},
     {"data": {"name": "infoC"}, "mark": {"type": "text", "fontWeight": "bold", "fontSize": 28, "align": "right", "baseline": "middle"},
      "encoding": {"x": {"datum": 0.052859}, "y": {"datum": 0.0009422}, "text": {"field": "panel"}}}
    ]}
  ], "spacing": 0, "bounds": "flush", "resolve": {"scale": {"size": "independent"}}}
 ], "spacing": 0, "resolve": {"scale": {"size": "independent"}}},
 {"vconcat": [
  {"hconcat": [
   {"width": 242, "height": 175, "view": {"stroke": "#333", "strokeWidth": 1.5},
    "layer": [
     {"data": {"name": "pdfD"}, "mark": {"type": "line", "color": "black", "strokeWidth": 2, "interpolate": "monotone"},
      "encoding": {"x": {"field": "x", "type": "quantitative", "scale": {"domain": [7, 12], "nice": false, "zero": false}, "axis": {"title": "²⁰⁶Pb/²³⁸U", "values": [7,8,9,10,11,12], "tickCount": 50, "format": "~g", "labelOverlap": false, "labelFlush": false, "grid": true, "gridColor": "#cccccc", "labelFontSize": 11, "titleFontSize": 14, "tickSize": 3, "labelPadding": 1, "titlePadding": 1}},
                   "y": {"field": "p", "type": "quantitative", "scale": {"domain": [0, 1.05], "nice": false}, "axis": {"title": "Relative Probability", "titleFont": "Liberation Sans", "labels": false, "ticks": false, "titleFontSize": 15, "titlePadding": 3}}}},
     {"data": {"name": "peaksD"}, "mark": {"type": "text", "fontWeight": "bold", "fontSize": 11, "baseline": "bottom"},
      "encoding": {"x": {"field": "x", "type": "quantitative"}, "y": {"field": "p", "type": "quantitative"}, "text": {"field": "label"}}},
     {"data": {"name": "infoD"}, "mark": {"type": "text", "font": "DejaVu Sans", "fontWeight": "bold", "fontSize": 15, "baseline": "middle"},
      "encoding": {"x": {"datum": 10.56}, "y": {"datum": 0.976}, "text": {"field": "name"}}},
     {"data": {"name": "infoD"}, "mark": {"type": "text", "fontSize": 11, "color": "#222", "baseline": "top", "lineBreak": "\n", "lineHeight": 14},
      "encoding": {"x": {"datum": 10.68}, "y": {"datum": 0.924}, "text": {"field": "stats"}}},
     {"data": {"name": "infoD"}, "mark": {"type": "point", "shape": "M-1,-0.58L-0.07,-0.82L0.01,-0.52Q0.86,-0.36,0.96,0.79L0.73,0.79Q0.57,0,-0.11,-0.17L-0.31,0.21Z", "size": 3136, "filled": false, "color": "#333", "strokeWidth": 1, "strokeDash": [3, 2], "opacity": 1},
      "encoding": {"x": {"datum": 12.89}, "y": {"datum": 0.018}}}
    ]},
   {"width": 217, "height": 1, "data": {"values": []}, "mark": "point"},
   {"width": 243, "height": 175, "view": {"stroke": "#333", "strokeWidth": 1.5},
    "layer": [
     {"data": {"name": "pdfE"}, "mark": {"type": "line", "color": "black", "strokeWidth": 2, "interpolate": "monotone"},
      "encoding": {"x": {"field": "x", "type": "quantitative", "scale": {"domain": [4, 9], "nice": false, "zero": false}, "axis": {"title": "²⁰⁶Pb/²³⁸U", "values": [4,5,6,7,8,9], "tickCount": 50, "format": "~g", "labelOverlap": false, "labelFlush": false, "grid": true, "gridColor": "#cccccc", "labelFontSize": 11, "titleFontSize": 14, "tickSize": 3, "labelPadding": 1, "titlePadding": 1}},
                   "y": {"field": "p", "type": "quantitative", "scale": {"domain": [0, 1.048], "nice": false}, "axis": {"title": "Relative Probability", "titleFont": "Liberation Sans", "labels": false, "ticks": false, "titleFontSize": 15, "titlePadding": 3}}}},
     {"data": {"name": "peaksE"}, "mark": {"type": "text", "fontWeight": "bold", "fontSize": 11, "baseline": "bottom"},
      "encoding": {"x": {"field": "x", "type": "quantitative"}, "y": {"field": "p", "type": "quantitative"}, "text": {"field": "label"}}},
     {"data": {"name": "infoE"}, "mark": {"type": "text", "font": "DejaVu Sans", "fontWeight": "bold", "fontSize": 15, "baseline": "middle"},
      "encoding": {"x": {"datum": 7.52}, "y": {"datum": 0.977}, "text": {"field": "name"}}},
     {"data": {"name": "infoE"}, "mark": {"type": "text", "fontSize": 11, "color": "#222", "baseline": "top", "lineBreak": "\n", "lineHeight": 14},
      "encoding": {"x": {"datum": 7.61}, "y": {"datum": 0.933}, "text": {"field": "stats"}}},
     {"data": {"name": "infoE"}, "mark": {"type": "point", "shape": "M-1,-0.58L-0.07,-0.82L0.01,-0.52Q0.86,-0.36,0.96,0.79L0.73,0.79Q0.57,0,-0.11,-0.17L-0.31,0.21Z", "size": 3136, "filled": false, "color": "#333", "strokeWidth": 1, "strokeDash": [3, 2], "opacity": 1},
      "encoding": {"x": {"datum": 9.77}, "y": {"datum": 0.048}}}
    ]},
   {"width": 207, "height": 1, "data": {"values": []}, "mark": "point"},
   {"width": 251, "height": 175, "view": {"stroke": "#333", "strokeWidth": 1.5},
    "layer": [
     {"data": {"name": "pdfF"}, "mark": {"type": "line", "color": "black", "strokeWidth": 2, "interpolate": "monotone"},
      "encoding": {"x": {"field": "x", "type": "quantitative", "scale": {"domain": [11.5, 16], "nice": false, "zero": false}, "axis": {"title": "²⁰⁶Pb/²³⁸U", "values": [11.5,12.5,13.5,14.5,15.5], "tickCount": 50, "format": "~g", "labelOverlap": false, "labelFlush": false, "grid": true, "gridColor": "#cccccc", "labelFontSize": 11, "titleFontSize": 14, "tickSize": 3, "labelPadding": 1, "titlePadding": 1}},
                   "y": {"field": "p", "type": "quantitative", "scale": {"domain": [0, 1.046], "nice": false}, "axis": {"title": "Relative Probability", "titleFont": "Liberation Sans", "labels": false, "ticks": false, "titleFontSize": 15, "titlePadding": 3}}}},
     {"data": {"name": "peaksF"}, "mark": {"type": "text", "fontWeight": "bold", "fontSize": 11, "baseline": "bottom"},
      "encoding": {"x": {"field": "x", "type": "quantitative"}, "y": {"field": "p", "type": "quantitative"}, "text": {"field": "label"}}},
     {"data": {"name": "infoF"}, "mark": {"type": "text", "font": "DejaVu Sans", "fontWeight": "bold", "fontSize": 15, "baseline": "middle"},
      "encoding": {"x": {"datum": 14.75}, "y": {"datum": 0.988}, "text": {"field": "name"}}},
     {"data": {"name": "infoF"}, "mark": {"type": "text", "fontSize": 11, "color": "#222", "baseline": "top", "lineBreak": "\n", "lineHeight": 14},
      "encoding": {"x": {"datum": 14.62}, "y": {"datum": 0.927}, "text": {"field": "stats"}}},
     {"data": {"name": "infoF"}, "mark": {"type": "point", "shape": "M-1,-0.58L-0.07,-0.82L0.01,-0.52Q0.86,-0.36,0.96,0.79L0.73,0.79Q0.57,0,-0.11,-0.17L-0.31,0.21Z", "size": 3136, "filled": false, "color": "#333", "strokeWidth": 1, "strokeDash": [3, 2], "opacity": 1},
      "encoding": {"x": {"datum": 16.735}, "y": {"datum": 0.024}}}
    ]}
  ], "spacing": 0, "bounds": "flush"},
  {"hconcat": [
   {"width": 138, "height": 1, "data": {"values": []}, "mark": "point"},
   {"width": 303, "height": 263, "view": {"stroke": "black", "strokeWidth": 2},
    "layer": [
     {"data": {"name": "ellD"}, "mark": {"type": "point", "filled": false, "color": "black", "strokeWidth": 1.1, "opacity": 1, "clip": true},
      "encoding": {
       "x": {"field": "x", "type": "quantitative", "scale": {"domain": [0, 0.02], "nice": false, "zero": false}, "axis": {"title": "²⁰⁷Pb/²³⁵U", "values": [0,0.002,0.004,0.006,0.008,0.01,0.012,0.014,0.016,0.018], "tickCount": 50, "labelExpr": "round(datum.value*1000) % 4 == 0 && datum.value < 0.019 ? format(datum.value, '.3f') : ''", "labelOverlap": false, "labelFlush": false, "labelFontSize": 14, "titleFontSize": 16, "tickSize": 5, "labelPadding": 2, "titlePadding": 2}},
       "y": {"field": "y", "type": "quantitative", "scale": {"domain": [0.001, 0.0019], "nice": false, "zero": false}, "axis": {"title": "²⁰⁶Pb/²³⁸U", "values": [0.001,0.0011,0.0012,0.0013,0.0014,0.0015,0.0016,0.0017,0.0018], "tickCount": 50, "labelExpr": "round(datum.value*10000) % 2 == 0 && datum.value > 0.00105 ? format(datum.value, '.4f') : ''", "labelOverlap": false, "labelFlush": false, "labelFontSize": 14, "titleFontSize": 16, "tickSize": 5, "titleAngle": 0, "titleAlign": "right", "titleBaseline": "middle", "titleX": -32, "titleY": 117}},
       "size": {"field": "a", "type": "quantitative", "scale": {"type": "pow", "exponent": 2, "domain": [0, 0.01], "range": [0, 91809], "nice": false}, "legend": null},
       "shape": {"field": "asp", "type": "nominal", "scale": {"domain": [0.3,0.4,0.5,0.6,0.7,0.8,0.9,1], "range": ["M1,0C1,0.1656,0.552,0.3,0,0.3C-0.552,0.3,-1,0.1656,-1,0C-1,-0.1656,-0.552,-0.3,0,-0.3C0.552,-0.3,1,-0.1656,1,0Z","M1,0C1,0.2208,0.552,0.4,0,0.4C-0.552,0.4,-1,0.2208,-1,0C-1,-0.2208,-0.552,-0.4,0,-0.4C0.552,-0.4,1,-0.2208,1,0Z","M1,0C1,0.276,0.552,0.5,0,0.5C-0.552,0.5,-1,0.276,-1,0C-1,-0.276,-0.552,-0.5,0,-0.5C0.552,-0.5,1,-0.276,1,0Z","M1,0C1,0.3312,0.552,0.6,0,0.6C-0.552,0.6,-1,0.3312,-1,0C-1,-0.3312,-0.552,-0.6,0,-0.6C0.552,-0.6,1,-0.3312,1,0Z","M1,0C1,0.3864,0.552,0.7,0,0.7C-0.552,0.7,-1,0.3864,-1,0C-1,-0.3864,-0.552,-0.7,0,-0.7C0.552,-0.7,1,-0.3864,1,0Z","M1,0C1,0.4416,0.552,0.8,0,0.8C-0.552,0.8,-1,0.4416,-1,0C-1,-0.4416,-0.552,-0.8,0,-0.8C0.552,-0.8,1,-0.4416,1,0Z","M1,0C1,0.4968,0.552,0.9,0,0.9C-0.552,0.9,-1,0.4968,-1,0C-1,-0.4968,-0.552,-0.9,0,-0.9C0.552,-0.9,1,-0.4968,1,0Z","M1,0C1,0.552,0.552,1,0,1C-0.552,1,-1,0.552,-1,0C-1,-0.552,-0.552,-1,0,-1C0.552,-1,1,-0.552,1,0Z"]}, "legend": null},
       "angle": {"field": "ang", "type": "quantitative", "scale": {"domain": [-180, 180], "range": [-180, 180]}},
       "strokeDash": {"condition": {"test": "datum.line == 'dotted'", "value": [1.5, 2]}, "value": [1, 0]}
      }},
     {"data": {"name": "concD"}, "mark": {"type": "line", "color": "black", "strokeWidth": 1, "clip": true},
      "encoding": {"x": {"field": "x", "type": "quantitative"}, "y": {"field": "y", "type": "quantitative"}, "order": {"field": "t", "type": "quantitative"}}},
     {"data": {"name": "concD"}, "mark": {"type": "point", "filled": true, "fill": "white", "stroke": "black", "strokeWidth": 1, "size": 20, "opacity": 1, "clip": true},
      "encoding": {"x": {"field": "x", "type": "quantitative"}, "y": {"field": "y", "type": "quantitative"}}},
     {"data": {"name": "concD"}, "transform": [{"filter": "isValid(datum.lab)"}], "mark": {"type": "text", "fontWeight": "bold", "fontSize": 12, "align": "right", "baseline": "middle", "dx": -4, "clip": true},
      "encoding": {"x": {"field": "x", "type": "quantitative"}, "y": {"field": "y", "type": "quantitative"}, "text": {"field": "lab"}}},
     {"data": {"name": "infoD"}, "mark": {"type": "text", "font": "DejaVu Sans", "fontWeight": "bold", "fontSize": 17, "align": "left", "baseline": "middle"},
      "encoding": {"x": {"datum": 0.000442}, "y": {"datum": 0.0018476}, "text": {"field": "name"}}},
     {"data": {"name": "infoD"}, "mark": {"type": "text", "fontWeight": "bold", "fontSize": 28, "align": "right", "baseline": "middle"},
      "encoding": {"x": {"datum": 0.019076}, "y": {"datum": 0.0010811}, "text": {"field": "panel"}}}
    ]},
   {"width": 127, "height": 1, "data": {"values": []}, "mark": "point"},
   {"width": 303, "height": 263, "view": {"stroke": "black", "strokeWidth": 2},
    "layer": [
     {"data": {"name": "ellE"}, "mark": {"type": "point", "filled": false, "color": "black", "strokeWidth": 1.1, "opacity": 1, "clip": true},
      "encoding": {
       "x": {"field": "x", "type": "quantitative", "scale": {"domain": [0, 0.018], "nice": false, "zero": false}, "axis": {"title": "²⁰⁷Pb/²³⁵U", "values": [0,0.002,0.004,0.006,0.008,0.01,0.012,0.014,0.016], "tickCount": 50, "labelExpr": "round(datum.value*1000) % 4 == 0 && datum.value < 0.017 ? format(datum.value, '.3f') : ''", "labelOverlap": false, "labelFlush": false, "labelFontSize": 14, "titleFontSize": 16, "tickSize": 5, "labelPadding": 2, "titlePadding": 2}},
       "y": {"field": "y", "type": "quantitative", "scale": {"domain": [0.0006, 0.0015], "nice": false, "zero": false}, "axis": {"title": "²⁰⁶Pb/²³⁸U", "values": [0.0006,0.0007,0.0008,0.0009,0.001,0.0011,0.0012,0.0013,0.0014], "tickCount": 50, "labelExpr": "round(datum.value*10000) % 2 == 0 && datum.value > 0.00065 ? format(datum.value, '.4f') : ''", "labelOverlap": false, "labelFlush": false, "labelFontSize": 14, "titleFontSize": 16, "tickSize": 5, "titleAngle": 0, "titleAlign": "right", "titleBaseline": "middle", "titleX": -25, "titleY": 113}},
       "size": {"field": "a", "type": "quantitative", "scale": {"type": "pow", "exponent": 2, "domain": [0, 0.01], "range": [0, 113340], "nice": false}, "legend": null},
       "shape": {"field": "asp", "type": "nominal", "scale": {"domain": [0.3,0.4,0.5,0.6,0.7,0.8,0.9,1], "range": ["M1,0C1,0.1656,0.552,0.3,0,0.3C-0.552,0.3,-1,0.1656,-1,0C-1,-0.1656,-0.552,-0.3,0,-0.3C0.552,-0.3,1,-0.1656,1,0Z","M1,0C1,0.2208,0.552,0.4,0,0.4C-0.552,0.4,-1,0.2208,-1,0C-1,-0.2208,-0.552,-0.4,0,-0.4C0.552,-0.4,1,-0.2208,1,0Z","M1,0C1,0.276,0.552,0.5,0,0.5C-0.552,0.5,-1,0.276,-1,0C-1,-0.276,-0.552,-0.5,0,-0.5C0.552,-0.5,1,-0.276,1,0Z","M1,0C1,0.3312,0.552,0.6,0,0.6C-0.552,0.6,-1,0.3312,-1,0C-1,-0.3312,-0.552,-0.6,0,-0.6C0.552,-0.6,1,-0.3312,1,0Z","M1,0C1,0.3864,0.552,0.7,0,0.7C-0.552,0.7,-1,0.3864,-1,0C-1,-0.3864,-0.552,-0.7,0,-0.7C0.552,-0.7,1,-0.3864,1,0Z","M1,0C1,0.4416,0.552,0.8,0,0.8C-0.552,0.8,-1,0.4416,-1,0C-1,-0.4416,-0.552,-0.8,0,-0.8C0.552,-0.8,1,-0.4416,1,0Z","M1,0C1,0.4968,0.552,0.9,0,0.9C-0.552,0.9,-1,0.4968,-1,0C-1,-0.4968,-0.552,-0.9,0,-0.9C0.552,-0.9,1,-0.4968,1,0Z","M1,0C1,0.552,0.552,1,0,1C-0.552,1,-1,0.552,-1,0C-1,-0.552,-0.552,-1,0,-1C0.552,-1,1,-0.552,1,0Z"]}, "legend": null},
       "angle": {"field": "ang", "type": "quantitative", "scale": {"domain": [-180, 180], "range": [-180, 180]}},
       "strokeDash": {"condition": {"test": "datum.line == 'dotted'", "value": [2, 2]}, "value": [1, 0]}
      }},
     {"data": {"name": "concE"}, "mark": {"type": "line", "color": "black", "strokeWidth": 1, "clip": true},
      "encoding": {"x": {"field": "x", "type": "quantitative"}, "y": {"field": "y", "type": "quantitative"}, "order": {"field": "t", "type": "quantitative"}}},
     {"data": {"name": "concE"}, "mark": {"type": "point", "filled": true, "fill": "white", "stroke": "black", "strokeWidth": 1, "size": 20, "opacity": 1, "clip": true},
      "encoding": {"x": {"field": "x", "type": "quantitative"}, "y": {"field": "y", "type": "quantitative"}}},
     {"data": {"name": "concE"}, "transform": [{"filter": "isValid(datum.lab)"}], "mark": {"type": "text", "fontWeight": "bold", "fontSize": 12, "align": "right", "baseline": "middle", "dx": -4, "clip": true},
      "encoding": {"x": {"field": "x", "type": "quantitative"}, "y": {"field": "y", "type": "quantitative"}, "text": {"field": "lab"}}},
     {"data": {"name": "infoE"}, "mark": {"type": "text", "font": "DejaVu Sans", "fontWeight": "bold", "fontSize": 17, "align": "left", "baseline": "middle"},
      "encoding": {"x": {"datum": 0.000695}, "y": {"datum": 0.0014429}, "text": {"field": "name"}}},
     {"data": {"name": "infoE"}, "mark": {"type": "text", "fontWeight": "bold", "fontSize": 28, "align": "right", "baseline": "middle"},
      "encoding": {"x": {"datum": 0.017424}, "y": {"datum": 0.0006811}, "text": {"field": "panel"}}}
    ]},
   {"width": 111, "height": 1, "data": {"values": []}, "mark": "point"},
   {"width": 309, "height": 263, "view": {"stroke": "black", "strokeWidth": 2},
    "layer": [
     {"data": {"name": "ellF"}, "mark": {"type": "point", "filled": false, "strokeWidth": 1, "opacity": 1, "clip": true},
      "encoding": {
       "x": {"field": "x", "type": "quantitative", "scale": {"domain": [0, 0.07], "nice": false, "zero": false}, "axis": {"title": "²⁰⁷Pb/²³⁵U", "values": [0,0.01,0.02,0.03,0.04,0.05,0.06], "tickCount": 50, "labelExpr": "round(datum.value*100) % 2 == 0 && datum.value > 0.005 ? format(datum.value, '.2f') : ''", "labelOverlap": false, "labelFlush": false, "labelFontSize": 14, "titleFontSize": 16, "tickSize": 5, "labelPadding": 2, "titlePadding": 2}},
       "y": {"field": "y", "type": "quantitative", "scale": {"domain": [0.0017, 0.0028], "nice": false, "zero": false}, "axis": {"title": "²⁰⁶Pb/²³⁸U", "values": [0.0017,0.0018,0.0019,0.002,0.0021,0.0022,0.0023,0.0024,0.0025,0.0026,0.0027], "tickCount": 50, "labelExpr": "round(datum.value*10000) % 2 == 1 && datum.value > 0.00175 ? format(datum.value, '.4f') : ''", "labelOverlap": false, "labelFlush": false, "labelFontSize": 14, "titleFontSize": 16, "tickSize": 5, "titleAngle": 0, "titleAlign": "right", "titleBaseline": "middle", "titleX": -19, "titleY": 144}},
       "size": {"field": "a", "type": "quantitative", "scale": {"type": "pow", "exponent": 2, "domain": [0, 0.03], "range": [0, 70140], "nice": false}, "legend": null},
       "shape": {"field": "asp", "type": "nominal", "scale": {"domain": [0.3,0.4,0.5,0.6,0.7,0.8,0.9,1], "range": ["M1,0C1,0.1656,0.552,0.3,0,0.3C-0.552,0.3,-1,0.1656,-1,0C-1,-0.1656,-0.552,-0.3,0,-0.3C0.552,-0.3,1,-0.1656,1,0Z","M1,0C1,0.2208,0.552,0.4,0,0.4C-0.552,0.4,-1,0.2208,-1,0C-1,-0.2208,-0.552,-0.4,0,-0.4C0.552,-0.4,1,-0.2208,1,0Z","M1,0C1,0.276,0.552,0.5,0,0.5C-0.552,0.5,-1,0.276,-1,0C-1,-0.276,-0.552,-0.5,0,-0.5C0.552,-0.5,1,-0.276,1,0Z","M1,0C1,0.3312,0.552,0.6,0,0.6C-0.552,0.6,-1,0.3312,-1,0C-1,-0.3312,-0.552,-0.6,0,-0.6C0.552,-0.6,1,-0.3312,1,0Z","M1,0C1,0.3864,0.552,0.7,0,0.7C-0.552,0.7,-1,0.3864,-1,0C-1,-0.3864,-0.552,-0.7,0,-0.7C0.552,-0.7,1,-0.3864,1,0Z","M1,0C1,0.4416,0.552,0.8,0,0.8C-0.552,0.8,-1,0.4416,-1,0C-1,-0.4416,-0.552,-0.8,0,-0.8C0.552,-0.8,1,-0.4416,1,0Z","M1,0C1,0.4968,0.552,0.9,0,0.9C-0.552,0.9,-1,0.4968,-1,0C-1,-0.4968,-0.552,-0.9,0,-0.9C0.552,-0.9,1,-0.4968,1,0Z","M1,0C1,0.552,0.552,1,0,1C-0.552,1,-1,0.552,-1,0C-1,-0.552,-0.552,-1,0,-1C0.552,-1,1,-0.552,1,0Z"]}, "legend": null},
       "angle": {"field": "ang", "type": "quantitative", "scale": {"domain": [-180, 180], "range": [-180, 180]}},
       "strokeDash": {"condition": {"test": "datum.line == 'dotted'", "value": [1.5, 2]}, "value": [1, 0]},
       "color": {"condition": {"test": "datum.line == 'dotted'", "value": "black"}, "value": "#8c8c8c"}
      }},
     {"data": {"name": "concF"}, "mark": {"type": "line", "color": "#888888", "strokeWidth": 1, "clip": true},
      "encoding": {"x": {"field": "x", "type": "quantitative"}, "y": {"field": "y", "type": "quantitative"}, "order": {"field": "t", "type": "quantitative"}}},
     {"data": {"name": "concF"}, "mark": {"type": "point", "filled": true, "fill": "white", "stroke": "#888888", "strokeWidth": 1, "size": 22, "opacity": 1, "clip": true},
      "encoding": {"x": {"field": "x", "type": "quantitative"}, "y": {"field": "y", "type": "quantitative"}}},
     {"data": {"name": "concF"}, "transform": [{"filter": "isValid(datum.lab)"}], "mark": {"type": "text", "fontWeight": "bold", "fontSize": 12, "align": "right", "baseline": "middle", "dx": -4, "clip": true},
      "encoding": {"x": {"field": "x", "type": "quantitative"}, "y": {"field": "y", "type": "quantitative"}, "text": {"field": "lab"}}},
     {"data": {"name": "infoF"}, "mark": {"type": "text", "font": "DejaVu Sans", "fontWeight": "bold", "fontSize": 17, "align": "right", "baseline": "middle"},
      "encoding": {"x": {"datum": 0.068942}, "y": {"datum": 0.0027304}, "text": {"field": "name"}}},
     {"data": {"name": "infoF"}, "mark": {"type": "text", "fontWeight": "bold", "fontSize": 28, "align": "right", "baseline": "middle"},
      "encoding": {"x": {"datum": 0.068034}, "y": {"datum": 0.0018029}, "text": {"field": "panel"}}}
    ]}
  ], "spacing": 0, "bounds": "flush", "resolve": {"scale": {"size": "independent"}}}
 ], "spacing": 0, "resolve": {"scale": {"size": "independent"}}}
],
"spacing": 44,
"resolve": {"scale": {"size": "independent"}}
}
